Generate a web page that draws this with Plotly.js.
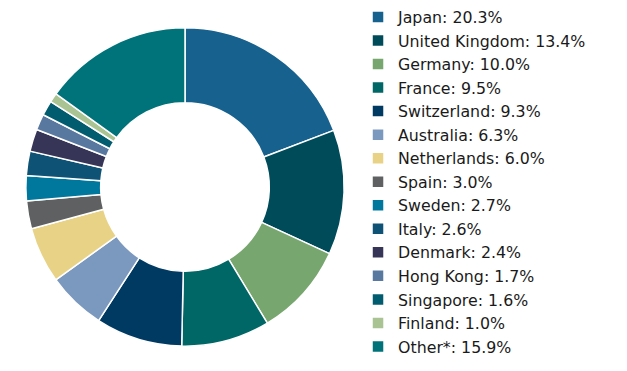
<!DOCTYPE html>
<html>
<head>
<meta charset="utf-8">
<script src="https://cdn.plot.ly/plotly-3.0.1.min.js"></script>
<style>html,body{margin:0;padding:0;background:#fff;}#chart{width:627px;height:371px;}</style>
</head>
<body>
<div id="chart"></div>
<script>
const countries = ["Japan","United Kingdom","Germany","France","Switzerland","Australia","Netherlands","Spain","Sweden","Italy","Denmark","Hong Kong","Singapore","Finland","Other*"];
const weights = [20.3,13.4,10.0,9.5,9.3,6.3,6.0,3.0,2.7,2.6,2.4,1.7,1.6,1.0,15.9];
const colors = ["#17618F","#004B5A","#77A66F","#006666","#003A62","#7B98BF","#E8D286","#5F6062","#00789E","#0E5275","#363557","#5878A0","#005C6E","#A9C392","#00727A"];

const legendLabels = countries.map((c,i)=> c + ": " + weights[i].toFixed(1) + "%");

const W = 627, H = 371;
const trace = {
  type: "pie",
  labels: legendLabels,
  values: weights,
  marker: {colors: colors, line: {color: "#ffffff", width: 1.5}},
  hole: 0.53,
  sort: false,
  direction: "clockwise",
  rotation: 0,
  textinfo: "none",
  hoverinfo: "label",
  domain: {x: [25/W, 345/W], y: [(H-346)/H, (H-26)/H]}
};
const layout = {
  width: W, height: H,
  margin: {l:0, r:0, t:0, b:0},
  paper_bgcolor: "#ffffff",
  showlegend: true,
  font: {family: "'DejaVu Sans', sans-serif", color: "#1a1a1a"},
  legend: {x: 0.571, xanchor: "left", y: 1.005, yanchor: "top", maxheight: 1, font: {size: 15.8, color: "#1a1a1a"}, bgcolor: "rgba(0,0,0,0)"}
};
Plotly.newPlot("chart", [trace], layout, {displayModeBar: false, staticPlot: true});
</script>
</body>
</html>
